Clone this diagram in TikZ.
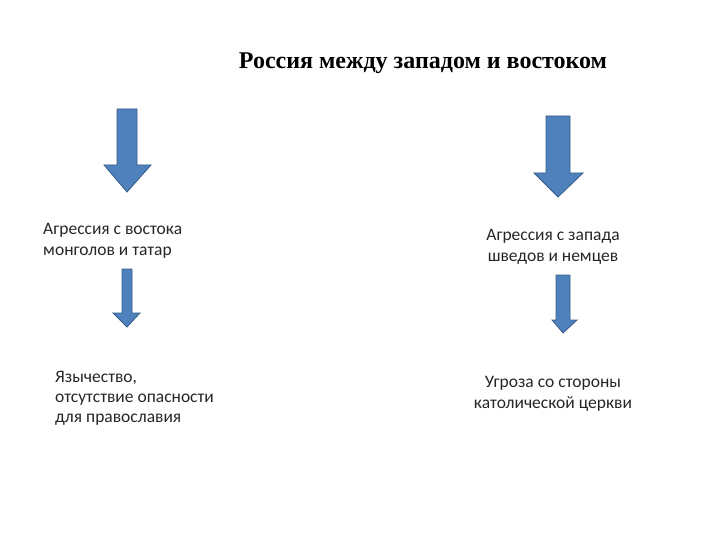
\documentclass[tikz,border=0pt]{standalone}
\usepackage{fontspec}
\setmainfont{Carlito}
\newfontfamily\titlefont{Liberation Serif}
\usepackage{tikz}

\definecolor{arrowfill}{HTML}{4F81BD}
\definecolor{arrowline}{HTML}{385D8A}

\begin{document}
\begin{tikzpicture}
        [x=1pt,y=-1pt,%%%%%%%%%%%%%%%%%%%%%%%%%%%%%%
        blockarrow/.style={draw=arrowline, fill=arrowfill, line width=0.8pt, line join=miter},
        label/.style={inner sep=0pt, font=\fontsize{17.5}{21.5}\selectfont, text=black!85},
        ]%%%%%%%%%%%%%%%%%%%%%%%%%%%%%%
        \useasboundingbox (0,0) rectangle (720,540);
        % Title
        \node[font=\titlefont\bfseries\fontsize{24}{28}\selectfont] (title) at (423,63)
          {Россия между западом и востоком};
        % Block arrows: left edge, right edge, top, head left, head right, head top, tip
        \foreach \l/\r/\t/\hl/\hr/\hb/\tip in {117/137/109/104/151/165/192,
                                               546/570/116/534/583/173/197,
                                               122/132/269/113/140/313/327,
                                               556/570/275/552/577/320/333}{
          \draw[blockarrow] (\l,\t) -- (\r,\t) -- (\r,\hb) -- (\hr,\hb)
            -- ({(\l+\r)/2},\tip) -- (\hl,\hb) -- (\l,\hb) -- cycle;
        }
        % Text
        \node[label, anchor=west, align=left] (east) at (43,241)
          {Агрессия с востока\\монголов и татар};
        \node[label, align=center] (west) at (553,247)
          {Агрессия с запада\\шведов и немцев};
        \node[label, anchor=west, align=left, font=\fontsize{17.5}{20}\selectfont] (pagan) at (55,398)
          {Язычество,\\отсутствие опасности\\для православия};
        \node[label, align=center] (church) at (553,394)
          {Угроза со стороны\\католической церкви};
      \end{tikzpicture}
\end{document}
